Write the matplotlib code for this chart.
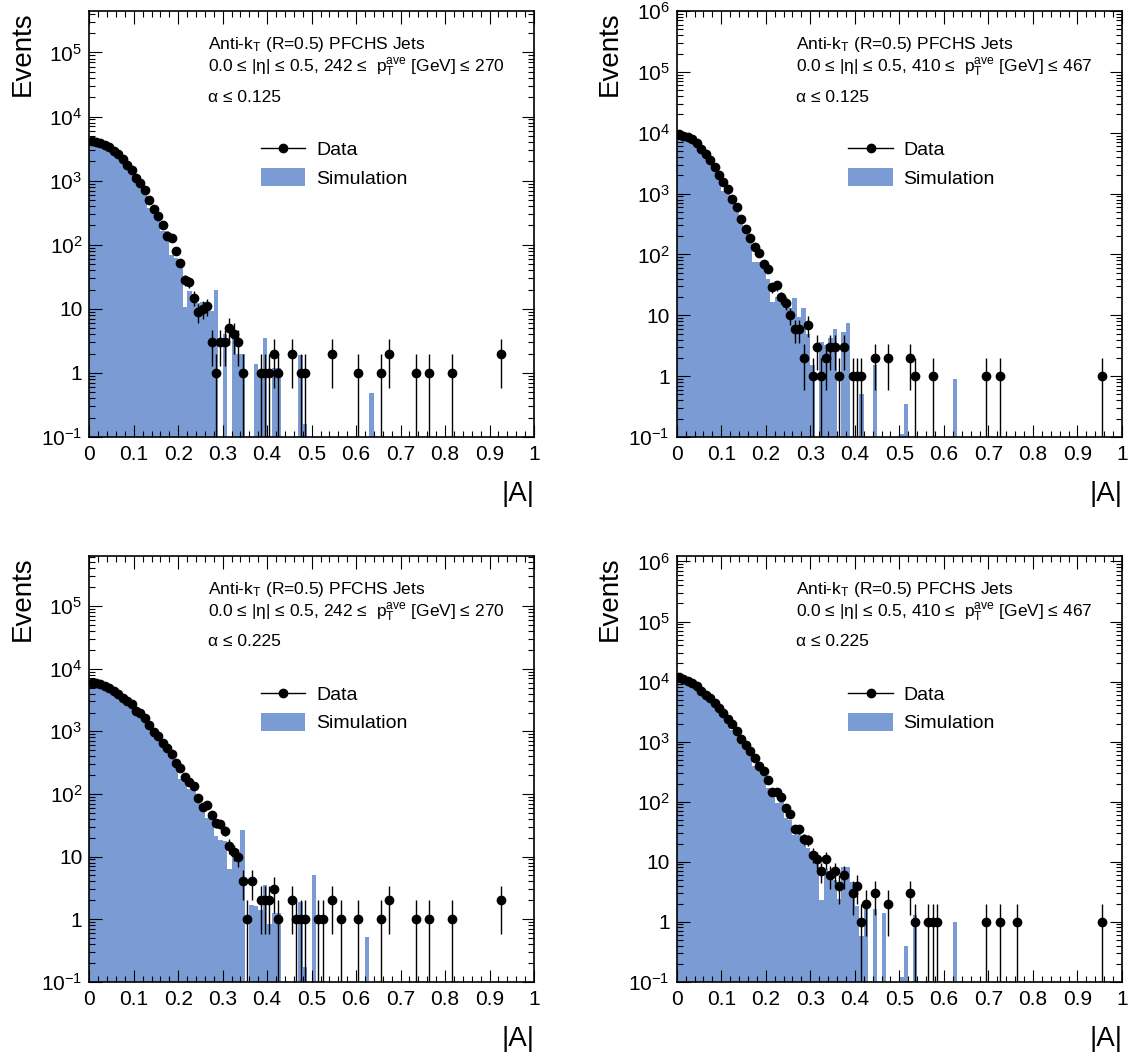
import matplotlib
matplotlib.use('Agg')
import matplotlib.pyplot as plt
import numpy as np
from matplotlib.ticker import MultipleLocator, LogLocator, FuncFormatter, NullFormatter
from matplotlib.lines import Line2D
from matplotlib.patches import Patch

plt.rcParams['font.family'] = ['Liberation Sans', 'DejaVu Sans']
plt.rcParams['mathtext.default'] = 'regular'
plt.rcParams['axes.unicode_minus'] = False

# |A| binning: 100 bins from 0 to 1
edges = np.linspace(0, 1, 101)

# top-left: 242-270 GeV, alpha <= 0.125
data_tl = [4220, 4070, 3890, 3630, 3310, 2950, 2570, 2190, 1780, 1480,
           1100, 930, 710, 500, 355, 282, 200, 135, 126, 81,
           52, 28, 26, 15, 9, 10, 11, 3, 1, 3,
           3, 5, 4, 3, 1, 0, 0, 0, 1, 1,
           1, 2, 1, 0, 0, 2, 0, 1, 1, 0,
           0, 0, 0, 0, 2, 0, 0, 0, 0, 0,
           1, 0, 0, 0, 0, 1, 0, 2, 0, 0,
           0, 0, 0, 1, 0, 0, 1, 0, 0, 0,
           0, 1, 0, 0, 0, 0, 0, 0, 0, 0,
           0, 0, 2, 0, 0, 0, 0, 0, 0, 0]
sim_tl = [3550, 3470, 3310, 3090, 2820, 2510, 2190, 1860, 1510, 1260,
          955, 794, 631, 380, 316, 240, 166, 166, 68, 63,
          46, 10.5, 19, 13.5, 12.3, 12.9, 11.5, 9.3, 19.5, 0,
          4.0, 0, 3.6, 1.95, 1.95, 0, 0, 1.37, 1.0, 3.5,
          0, 1.2, 1.2, 0, 0, 0, 0, 1.9, 0.16, 0,
          0, 0, 0, 0, 0, 0, 0, 0, 0, 0,
          0, 0, 0, 0.48, 0, 0, 0, 0, 0, 0,
          0, 0, 0, 0, 0, 0, 0, 0, 0, 0,
          0, 0, 0, 0, 0, 0, 0, 0, 0, 0,
          0, 0, 0, 0, 0, 0, 0, 0, 0, 0]

# top-right: 410-467 GeV, alpha <= 0.125
data_tr = [9550, 8950, 8510, 7940, 6800, 5400, 4470, 3630, 2700, 2040,
           1580, 1170, 820, 600, 385, 264, 185, 132, 107, 70,
           58, 29, 31, 20, 16, 10, 6, 6, 2, 7,
           1, 3, 1, 2, 3, 3, 1, 3, 0, 1,
           1, 1, 0, 0, 2, 0, 0, 2, 0, 0,
           0, 0, 2, 1, 0, 0, 0, 1, 0, 0,
           0, 0, 0, 0, 0, 0, 0, 0, 0, 1,
           0, 0, 1, 0, 0, 0, 0, 0, 0, 0,
           0, 0, 0, 0, 0, 0, 0, 0, 0, 0,
           0, 0, 0, 0, 0, 1, 0, 0, 0, 0]
sim_tr = [8510, 8130, 7760, 7080, 6170, 5010, 4170, 3310, 2510, 1900,
          1120, 1000, 720, 500, 340, 250, 170, 74, 74, 63,
          40, 16.6, 20, 23, 13, 13, 19, 9.4, 13, 5,
          1.5, 0, 3.7, 3.2, 4.2, 6, 0, 5.3, 7.5, 0,
          0, 0.5, 0, 0, 1.5, 0, 0, 0, 0, 0,
          0.11, 0.35, 0, 0, 0, 0, 0, 0, 0, 0,
          0, 0, 0.9, 0, 0, 0, 0, 0, 0, 0,
          0, 0, 0, 0, 0, 0, 0, 0, 0, 0,
          0, 0, 0, 0, 0, 0, 0, 0, 0, 0,
          0, 0, 0, 0, 0, 0, 0, 0, 0, 0]

# bottom-left: 242-270 GeV, alpha <= 0.225
data_bl = [6030, 5890, 5620, 5250, 4900, 4470, 3980, 3470, 3020, 2690,
           2140, 1950, 1620, 1260, 977, 851, 661, 537, 437, 309,
           257, 186, 155, 135, 87, 62, 66, 46, 34, 33,
           26, 15, 12, 10, 4, 1, 4, 0, 2, 2,
           2, 3, 1, 0, 0, 2, 1, 1, 1, 0,
           0, 1, 1, 0, 2, 0, 1, 0, 0, 0,
           1, 0, 0, 0, 0, 1, 0, 2, 0, 0,
           0, 0, 0, 1, 0, 0, 1, 0, 0, 0,
           0, 1, 0, 0, 0, 0, 0, 0, 0, 0,
           0, 0, 2, 0, 0, 0, 0, 0, 0, 0]
sim_bl = [5250, 5130, 5010, 4680, 4370, 3980, 3550, 3090, 2690, 2340,
          1910, 1700, 1450, 1120, 871, 741, 575, 468, 380, 269,
          174, 166, 120, 115, 71, 55, 41, 40, 21, 18.6,
          17.4, 6.3, 13.5, 11.2, 27, 0, 1.7, 1.6, 1.4, 3.5,
          0.85, 1.25, 1.25, 0, 0, 0, 0, 1.9, 0.17, 0,
          5.1, 0, 0, 0, 0, 0, 0, 0, 0, 0,
          0, 0, 0.52, 0, 0, 0, 0, 0, 0, 0,
          0, 0, 0, 0, 0, 0, 0, 0, 0, 0,
          0, 0, 0, 0, 0, 0, 0, 0, 0, 0,
          0, 0, 0, 0, 0, 0, 0, 0, 0, 0]

# bottom-right: 410-467 GeV, alpha <= 0.225
data_br = [11750, 10960, 10230, 9330, 8510, 6920, 5890, 5370, 4470, 3630,
           3020, 2400, 1950, 1510, 1100, 871, 692, 537, 389, 324,
           229, 145, 145, 120, 78, 63, 35, 35, 24, 23,
           13, 11, 7, 11, 6, 7, 4, 6, 0, 3,
           4, 1, 2, 0, 3, 0, 0, 2, 0, 0,
           0, 0, 3, 1, 0, 0, 1, 1, 1, 0,
           0, 0, 0, 0, 0, 0, 0, 0, 0, 1,
           0, 0, 1, 0, 0, 0, 1, 0, 0, 0,
           0, 0, 0, 0, 0, 0, 0, 0, 0, 0,
           0, 0, 0, 0, 0, 1, 0, 0, 0, 0]
sim_br = [10470, 10000, 9330, 8510, 7590, 6310, 5500, 4900, 4070, 3310,
          2750, 2240, 1580, 1350, 1000, 759, 631, 398, 355, 288,
          170, 135, 95, 100, 54, 50, 28, 30, 23, 16.6,
          12, 9.8, 2.3, 7.6, 6.2, 5.0, 2.4, 8.0, 8.0, 4.5,
          1.8, 0.58, 1.65, 0, 1.6, 0, 1.4, 0, 0, 0,
          0.12, 0.39, 0, 1.27, 0, 0, 0, 0, 0, 0,
          0, 0, 1.0, 0, 0, 0, 0, 0, 0, 0,
          0, 0, 0, 0, 0, 0, 0, 0, 0, 0,
          0, 0, 0, 0, 0, 0, 0, 0, 0, 0,
          0, 0, 0, 0, 0, 0, 0, 0, 0, 0]

panels = [
    (data_tl, sim_tl, '242', '270', '0.125'),
    (data_tr, sim_tr, '410', '467', '0.125'),
    (data_bl, sim_bl, '242', '270', '0.225'),
    (data_br, sim_br, '410', '467', '0.225'),
]

W, H = 1136, 1057
boxes = [
    (89.3, 11, 534, 437),
    (676.7, 11, 1122, 437),
    (89.3, 556, 534, 981.7),
    (676.7, 556, 1122, 981.7),
]
sim_color = '#7b9bd4'


def ytick_fmt(v, pos):
    e = int(round(np.log10(v)))
    if e == 0:
        return '1'
    if e == 1:
        return '10'
    return '$10^{%d}$' % e


fig = plt.figure(figsize=(W / 100, H / 100), dpi=100)

for (data, sim, ptlo, pthi, alpha), (x0, y0, x1, y1) in zip(panels, boxes):
    ax = fig.add_axes([x0 / W, (H - y1) / H, (x1 - x0) / W, (y1 - y0) / H])
    data = np.array(data, dtype=float)
    sim = np.array(sim, dtype=float)
    centers = 0.5 * (edges[:-1] + edges[1:])

    ax.stairs(np.maximum(sim, 1e-4), edges, baseline=1e-4, fill=True,
              color=sim_color, lw=0)

    m = data > 0
    err = np.sqrt(data[m])
    lo = np.minimum(err, data[m] - 1e-4)
    ax.errorbar(centers[m], data[m], yerr=[lo, err], fmt='o', color='k',
                ms=6, elinewidth=1, capsize=0)

    ax.set_yscale('log')
    ax.set_xlim(0, 1)
    ax.set_ylim(0.1, 105 * data.max())

    ax.xaxis.set_major_locator(MultipleLocator(0.1))
    ax.xaxis.set_minor_locator(MultipleLocator(0.02))
    ax.xaxis.set_major_formatter(FuncFormatter(lambda v, p: '%g' % round(v, 2)))
    ax.yaxis.set_major_locator(LogLocator(base=10, numticks=20))
    ax.yaxis.set_minor_locator(LogLocator(base=10, subs=np.arange(2, 10), numticks=100))
    ax.yaxis.set_major_formatter(FuncFormatter(ytick_fmt))
    ax.yaxis.set_minor_formatter(NullFormatter())
    ax.tick_params(which='both', direction='in', top=True, right=True, width=0.8)
    ax.tick_params(which='major', length=9, labelsize=15)
    ax.tick_params(axis='x', which='major', pad=6)
    ax.tick_params(axis='y', which='major', pad=5)
    ax.tick_params(which='minor', length=4.5)
    for s in ax.spines.values():
        s.set_linewidth(1.2)

    ax.set_xlabel('|A|', fontsize=20, loc='right', labelpad=12)
    ax.set_ylabel('Events', fontsize=20, loc='top', labelpad=4)

    ax.text(0.268, 0.922, 'Anti-$k_{T}$ (R=0.5) PFCHS Jets', transform=ax.transAxes,
            fontsize=12.5, va='center')
    ax.text(0.268, 0.866,
            '0.0 ≤ |η| ≤ 0.5, %s ≤  $p_{T}^{ave}$ [GeV] ≤ %s' % (ptlo, pthi),
            transform=ax.transAxes, fontsize=12.5, va='center')
    ax.text(0.268, 0.798, 'α ≤ %s' % alpha, transform=ax.transAxes,
            fontsize=12.5, va='center')

    handles = [Line2D([], [], color='k', marker='o', ms=6, lw=1),
               Patch(facecolor=sim_color, edgecolor='none')]
    ax.legend(handles, ['Data', 'Simulation'], loc='upper left',
              bbox_to_anchor=(0.385, 0.697), frameon=False, fontsize=14,
              handlelength=2.3, handleheight=1.0, handletextpad=0.55,
              labelspacing=0.45, borderpad=0, borderaxespad=0)

fig.savefig('out.png', dpi=100)
